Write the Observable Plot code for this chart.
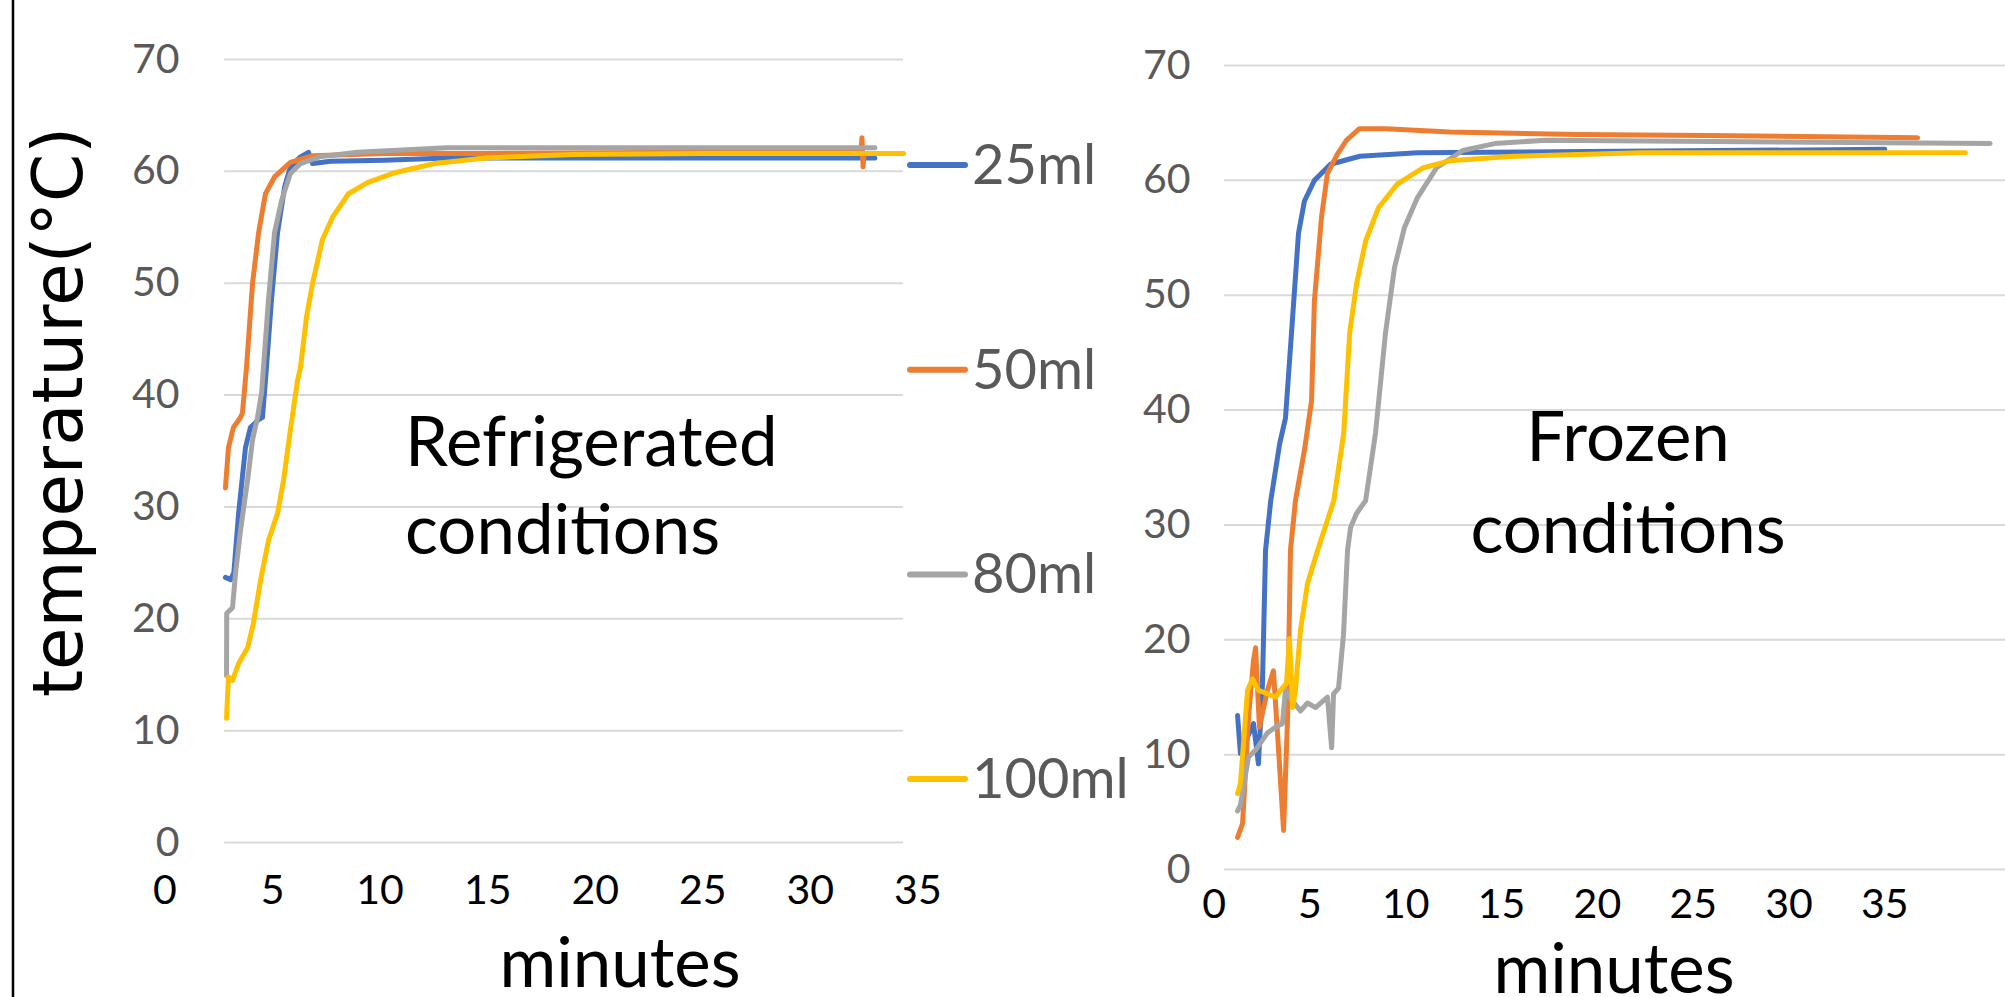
<!DOCTYPE html>
<html><head><meta charset="utf-8">
<script src="https://cdn.jsdelivr.net/npm/d3@7"></script>
<script src="https://cdn.jsdelivr.net/npm/@observablehq/plot@0.6"></script>
<style>
html,body{margin:0;padding:0;background:#fff;}
#wrap{position:relative;width:2005px;height:997px;overflow:hidden;background:#fff;}
#wrap > svg{position:absolute;}
</style></head><body><div id="wrap"></div>
<script>
const seriesNames = ["25ml","50ml","80ml","100ml"];
const seriesColors = ["#4472C4","#ED7D31","#A5A5A5","#FFC000"];
const xTickValues = [0,5,10,15,20,25,30,35];
const yTickValues = [0,10,20,30,40,50,60,70];
const panelTitles = [["Refrigerated","conditions"],["Frozen","conditions"]];
const xAxisTitle = "minutes";
const yAxisTitle = "temperature(°C)";
const fridgeGridSpan = [2.77, 34.33];
const frozenGridSpan = [0.54, 41.3];

// Refrigerated conditions: [minutes, °C]
const fridge25 = [[2.81,23.7],[3.05,23.5],[3.2,24.1],[3.42,29.4],[3.74,35.3],[3.97,37.1],[4.35,37.8],[4.53,38.0],[4.67,41.3],[4.95,48.5],[5.23,54.5],[5.56,58.6],[5.83,60.4],[6.3,61.3],[6.67,61.7],[6.86,60.7],[7.7,60.9],[10.2,61.0],[13.1,61.2],[20.3,61.2],[33.0,61.2]];
const fridge50 = [[2.81,31.7],[2.95,35.3],[3.18,37.1],[3.51,38.0],[3.6,38.4],[3.79,42.5],[4.07,50.0],[4.35,54.5],[4.67,58.0],[5.09,59.5],[5.83,60.8],[6.86,61.4],[10.2,61.6],[14.9,61.6],[24.9,61.7],[32.35,61.7],[32.4,63.0],[32.45,60.4],[32.5,61.6]];
const fridge80 = [[2.86,14.9],[2.87,20.5],[3.14,21.0],[3.28,24.1],[3.51,27.9],[3.84,32.4],[4.07,36.0],[4.3,38.0],[4.49,40.2],[4.81,48.5],[5.09,54.5],[5.42,57.4],[5.83,59.8],[6.3,60.7],[7.18,61.3],[8.95,61.7],[13.1,62.1],[33.0,62.1]];
const fridge100 = [[2.86,11.1],[2.95,14.8],[3.14,14.5],[3.42,16.0],[3.84,17.4],[4.11,19.6],[4.44,23.4],[4.81,27.0],[5.23,29.4],[5.51,32.4],[5.83,36.9],[6.16,41.3],[6.3,42.5],[6.58,47.0],[6.86,50.0],[7.32,53.9],[7.79,55.9],[8.53,58.0],[9.41,59.0],[10.72,59.9],[12.53,60.7],[14.9,61.2],[19.0,61.5],[25.0,61.6],[34.33,61.6]];

// Frozen conditions: [minutes, °C]
const frozen25 = [[1.22,13.4],[1.37,10.1],[1.89,12.1],[2.05,12.7],[2.31,9.2],[2.52,16.2],[2.68,27.8],[2.95,32.1],[3.42,37.1],[3.72,39.3],[4.09,48.0],[4.4,55.4],[4.71,58.2],[5.23,60.0],[6.07,61.4],[7.6,62.1],[10.62,62.4],[35.0,62.7]];
const frozen50 = [[1.22,2.8],[1.48,4.0],[1.79,13.2],[2.05,18.2],[2.16,19.3],[2.36,12.4],[2.78,15.6],[3.09,17.3],[3.36,10.4],[3.62,3.4],[3.83,13.2],[3.98,27.8],[4.24,32.1],[4.71,36.5],[5.08,40.8],[5.23,49.5],[5.6,56.8],[5.91,60.6],[6.44,62.3],[6.91,63.5],[7.58,64.5],[8.94,64.5],[12.28,64.2],[18.96,64.0],[25.64,63.9],[36.71,63.7]];
const frozen80 = [[1.22,5.1],[1.37,5.6],[1.79,9.8],[2.16,10.4],[2.78,11.9],[3.3,12.5],[3.56,12.7],[3.72,15.6],[4.09,14.7],[4.5,13.8],[4.87,14.5],[5.29,14.1],[5.91,15.0],[6.13,10.6],[6.23,15.3],[6.49,15.8],[6.75,20.5],[6.96,27.8],[7.12,29.8],[7.43,31.0],[7.9,32.1],[8.42,38.0],[8.94,46.7],[9.41,52.4],[9.93,55.9],[10.61,58.5],[11.61,61.1],[12.97,62.6],[14.64,63.2],[17.31,63.5],[40.5,63.2]];
const frozen100 = [[1.22,6.6],[1.37,7.5],[1.74,15.6],[2.0,16.6],[2.31,15.6],[2.78,15.3],[3.2,15.0],[3.56,15.8],[3.77,16.2],[3.93,20.1],[4.09,14.1],[4.24,15.6],[4.5,20.8],[4.87,24.9],[5.4,27.8],[6.24,32.1],[6.76,38.0],[7.07,46.7],[7.43,51.0],[7.9,54.7],[8.57,57.6],[9.57,59.7],[10.92,61.1],[12.28,61.7],[15.62,62.1],[22.3,62.4],[39.2,62.4]];

function toRows(list) {
  const rows = [];
  list.forEach((pts, i) => pts.forEach(([t, v]) => rows.push({series: seriesNames[i], t, v})));
  return rows;
}
const fridgeRows = toRows([fridge25, fridge50, fridge80, fridge100]);
const frozenRows = toRows([frozen25, frozen50, frozen80, frozen100]);

const FONT = "Lato, 'Open Sans', sans-serif";

function panel(rows, cfg) {
  return Plot.plot({
    width: cfg.width, height: 997,
    marginLeft: cfg.ml, marginRight: cfg.mr, marginTop: cfg.mt, marginBottom: cfg.mb,
    x: {domain: cfg.xDomain},
    y: {domain: [0, 70]},
    color: {domain: seriesNames, range: seriesColors},
    style: {fontFamily: FONT, overflow: "visible", background: "transparent"},
    marks: [
      Plot.ruleY(yTickValues, {y: d => d, x1: () => cfg.grid[0], x2: () => cfg.grid[1], stroke: "#D9D9D9", strokeWidth: 2}),
      Plot.axisY(yTickValues, {tickSize: 0, tickPadding: 0, dx: cfg.ydx, fontSize: 41, fill: "#595959", label: null, tickFormat: d => String(d)}),
      Plot.axisX(xTickValues, {tickSize: 0, tickPadding: cfg.xpad, fontSize: 41, fill: "#000", label: null, tickFormat: d => String(d)}),
      Plot.line(rows, {x: "t", y: "v", z: "series", stroke: "series", strokeWidth: 5, strokeLinejoin: "round", strokeLinecap: "round"})
    ]
  });
}

const wrap = document.getElementById("wrap");
const left = panel(fridgeRows, {width: 1000, ml: 164.5, mr: 82.6, mt: 59, mb: 155, xDomain: [0, 35], grid: fridgeGridSpan, ydx: 14.5, xpad: 32.6});
left.style.left = "0px"; left.style.top = "0px";
wrap.appendChild(left);
const right = panel(frozenRows, {width: 905, ml: 113.7, mr: 0, mt: 65, mb: 128, xDomain: [0, 41.3], grid: frozenGridSpan, ydx: -23.7, xpad: 19.6});
right.style.left = "1100px"; right.style.top = "0px";
wrap.appendChild(right);

// overlay: frame line, axis titles, annotations, legend
const ov = d3.select(wrap).append("svg")
  .attr("width", 2005).attr("height", 997)
  .style("left", "0px").style("top", "0px").style("pointer-events", "none");

ov.append("line").attr("x1", 13).attr("x2", 13).attr("y1", 0).attr("y2", 997)
  .attr("stroke", "#000").attr("stroke-width", 2.5);

ov.append("text").text(yAxisTitle)
  .attr("transform", "translate(82,412) rotate(-90)")
  .attr("text-anchor", "middle").attr("font-family", "'DejaVu Sans', Verdana, sans-serif")
  .attr("font-size", 69).attr("fill", "#000");

[[620, 987], [1614, 993]].forEach(([x, y]) => {
  ov.append("text").text(xAxisTitle).attr("x", x).attr("y", y)
    .attr("text-anchor", "middle").attr("font-family", FONT).attr("font-size", 69).attr("fill", "#000");
});

const annot = [
  {x: 405, y: [466, 554], anchor: "start"},
  {x: 1628, y: [461, 553], anchor: "middle"}
];
annot.forEach((a, i) => {
  panelTitles[i].forEach((line, j) => {
    ov.append("text").text(line).attr("x", a.x).attr("y", a.y[j])
      .attr("text-anchor", a.anchor).attr("font-family", FONT).attr("font-size", 69).attr("fill", "#000");
  });
});

seriesNames.forEach((name, i) => {
  const y = 165 + 204.7 * i;
  ov.append("line").attr("x1", 910).attr("x2", 965).attr("y1", y).attr("y2", y)
    .attr("stroke", seriesColors[i]).attr("stroke-width", 6).attr("stroke-linecap", "round");
  ov.append("text").text(name).attr("x", 972).attr("y", y + 19)
    .attr("font-family", FONT).attr("font-size", 56).attr("fill", "#595959");
});
</script></body></html>
